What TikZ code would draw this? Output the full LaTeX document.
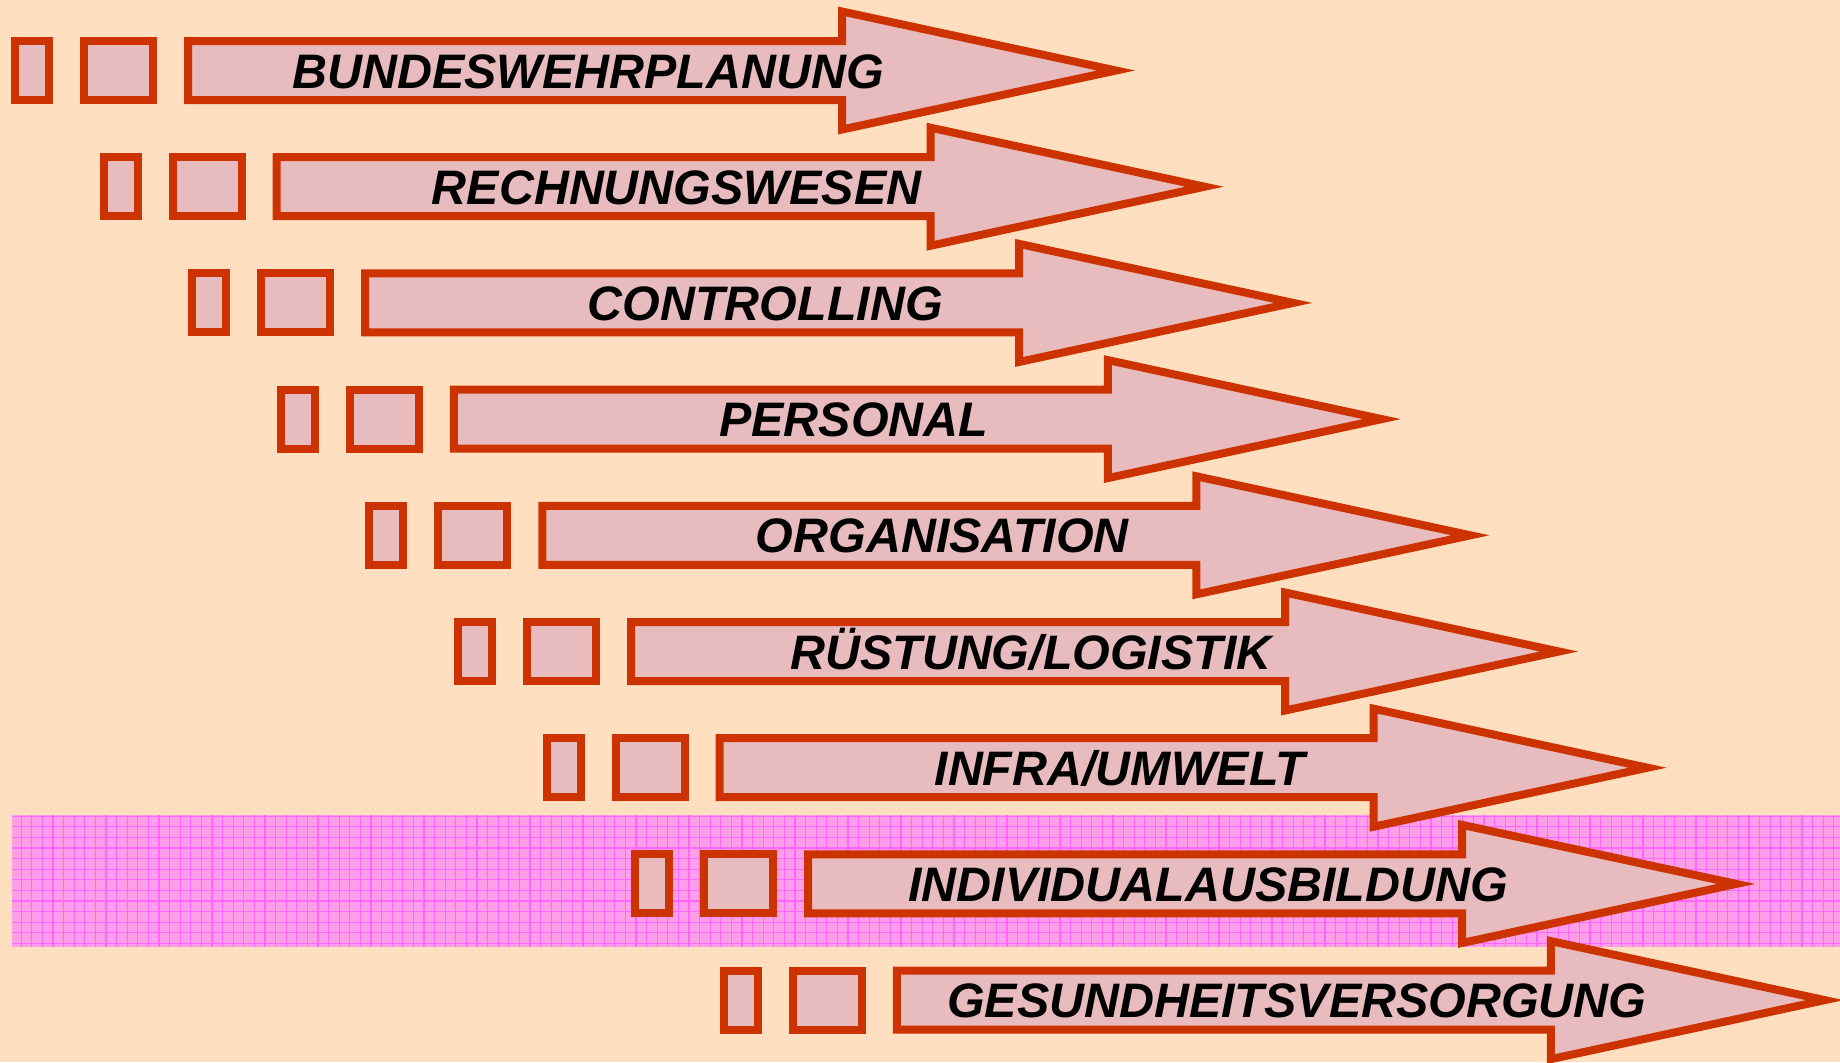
\documentclass[tikz,border=0pt]{standalone}
\usepackage{fontspec}
\setmainfont{Liberation Sans}
\definecolor{peach}{RGB}{255,223,192}
\definecolor{rimred}{RGB}{204,51,0}
\definecolor{rosefill}{RGB}{232,188,190}
\definecolor{bandpink}{RGB}{255,158,232}
\definecolor{gridpink}{RGB}{255,102,255}
\tikzset{
  rim/.style={draw=rimred,fill=rosefill,line width=4pt,line join=miter},
  areatext/.style={font=\fontsize{24.2pt}{28pt}\selectfont\bfseries\itshape,anchor=base,inner sep=0pt}
}

\begin{document}
\begin{tikzpicture}[x=0.5pt,y=-0.5pt]
  \useasboundingbox[fill=peach] (0,0) rectangle (1840,1062);
  % highlighted band behind INDIVIDUALAUSBILDUNG
  \fill[bandpink] (12,815) rectangle (1840,947);
  \begin{scope}
    \clip (12,815) rectangle (1840,947);
    \draw[gridpink,line width=0.6pt,step=5.3pt] (12,815) grid (1840,947);
  \end{scope}
  % one row per area, each shifted right and down
  \foreach \area [count=\i from 0] in {BUNDESWEHRPLANUNG,RECHNUNGSWESEN,CONTROLLING,PERSONAL,ORGANISATION,RÜSTUNG/LOGISTIK,INFRA/UMWELT,INDIVIDUALAUSBILDUNG,GESUNDHEITSVERSORGUNG}{
    \begin{scope}[shift={(88.6*\i,116.2*\i)}]
      \draw[rim] (15,41) rectangle (49,100);
      \draw[rim] (84,41) rectangle (153,100);
      \draw[rim] (188,41) -- (842,41) -- (842,11.5) -- (1116,70.5)
        -- (842,129.5) -- (842,100) -- (188,100) -- cycle;
      \node[areatext] (row\i) at (588,88) {\area};
    \end{scope}
  }
\end{tikzpicture}
\end{document}
